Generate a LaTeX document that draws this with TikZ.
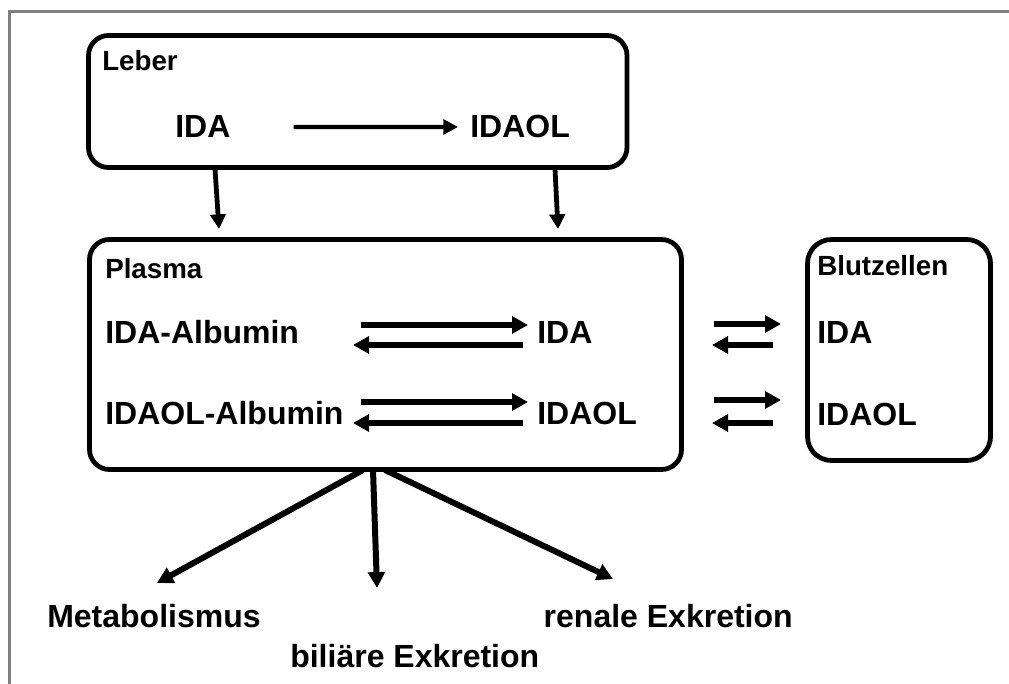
\documentclass[tikz,border=0pt]{standalone}
\usepackage{fontspec}
\setmainfont{Liberation Sans}
\usetikzlibrary{arrows.meta,fit,calc}
\begin{document}
\begin{tikzpicture}[x=0.75pt,y=-0.75pt,
  box/.style={draw, line width=3.6pt, rounded corners=15pt, inner sep=0pt},
  big/.style={font=\bfseries\fontsize{24}{28}\selectfont, inner sep=0pt, anchor=base west},
  small/.style={font=\bfseries\fontsize{20.8}{24}\selectfont, inner sep=0pt, anchor=base west},
  arrA/.style={line width=3.2pt, -{Triangle[length=11pt,width=11pt]}},
  arrD/.style={line width=3.6pt, -{Triangle[length=11pt,width=11.5pt]}},
  arrB/.style={line width=4.5pt, -{Triangle[length=12pt,width=12.5pt]}},
  frame/.style={draw=black!50, line width=2.3pt}
  ]
\useasboundingbox (0,0) rectangle (1009,684);
% outer frame (top and left edges visible)
\coordinate (fA) at (9.5,1000);
\coordinate (fB) at (9.5,11.5);
\coordinate (fC) at (1100,11.5);
\draw[frame] (fA) -- (fB) -- (fC);

% boxes
\node[box, fit={(88.5,35.5) (627,167.5)}] (leber) {};
\node[box, fit={(89.5,239.5) (681.5,469.5)}] (plasma) {};
\node[box, rounded corners=18pt, fit={(807.5,239.5) (990.5,460.5)}] (blut) {};

% Leber
\node[small] (tleber) at (102,71) {Leber};
\node[big] (ida1) at (175,138) {IDA};
\node[big] (idaol1) at (470,138) {IDAOL};
\draw[arrA] ($(ida1.east)+(63,0)$) -- ($(idaol1.west)+(-12,0)$);

% Plasma
\node[small] (tplasma) at (105,278) {Plasma};
\node[big] (idaalb) at (105,343) {IDA-Albumin};
\node[big] (idaolalb) at (105,424) {IDAOL-Albumin};
\node[big] (idap) at (537,343) {IDA};
\node[big] (idaolp) at (537,424) {IDAOL};

\coordinate (r1a) at (361,325); \coordinate (r1b) at (528,325);
\coordinate (l1a) at (523,345); \coordinate (l1b) at (353,345);
\coordinate (r2a) at (361,402); \coordinate (r2b) at (528,402);
\coordinate (l2a) at (523,423); \coordinate (l2b) at (353,423);
\draw[arrB] (r1a) -- (r1b);
\draw[arrB] (l1a) -- (l1b);
\draw[arrB] (r2a) -- (r2b);
\draw[arrB] (l2a) -- (l2b);

% Blutzellen
\node[small] (tblut) at (817,275) {Blutzellen};
\node[big] (idab) at (817,343) {IDA};
\node[big] (idaolb) at (817,425) {IDAOL};

\coordinate (br1a) at (714,324); \coordinate (br1b) at (781,324);
\coordinate (bl1a) at (773,345); \coordinate (bl1b) at (712,345);
\coordinate (br2a) at (714,400); \coordinate (br2b) at (781,400);
\coordinate (bl2a) at (773,423); \coordinate (bl2b) at (712,423);
\draw[arrB] (br1a) -- (br1b);
\draw[arrB] (bl1a) -- (bl1b);
\draw[arrB] (br2a) -- (br2b);
\draw[arrB] (bl2a) -- (bl2b);

% Leber -> Plasma
\coordinate (d1a) at (215,169); \coordinate (d1b) at (219,229);
\coordinate (d2a) at (555,169); \coordinate (d2b) at (558,229);
\draw[arrD] (d1a) -- (d1b);
\draw[arrD] (d2a) -- (d2b);

% outputs
\node[big] (metab) at (47,627) {Metabolismus};
\node[big, anchor=base east] (renal) at (793,627) {renale Exkretion};
\node[big] (bili) at (290,667) {biliäre Exkretion};

\coordinate (s1) at (363,470);
\coordinate (s2) at (373,470);
\coordinate (s3) at (385,470);
\coordinate (e1) at (157,583);
\coordinate (e2) at (377,588);
\coordinate (e3) at (613,579);
\draw[arrB] (s1) -- (e1);
\draw[arrB] (s2) -- (e2);
\draw[arrB] (s3) -- (e3);
\end{tikzpicture}
\end{document}
